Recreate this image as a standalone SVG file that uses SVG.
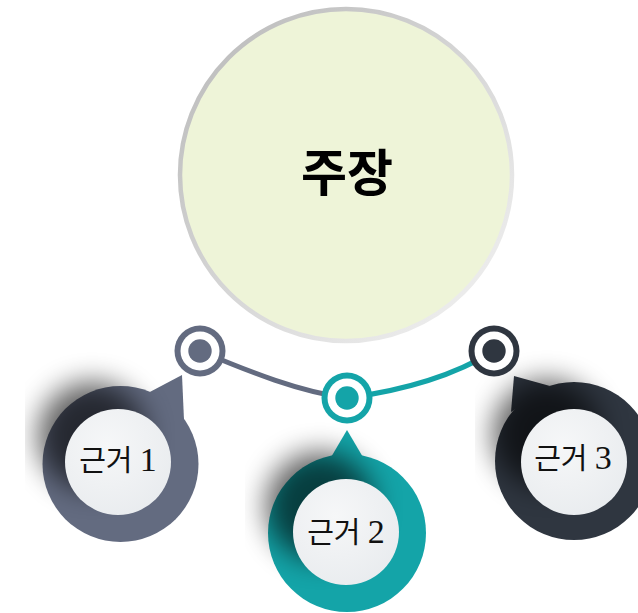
<svg xmlns="http://www.w3.org/2000/svg" width="638" height="613" viewBox="0 0 638 613">
  <style>
    .main-text { font-family: "Noto Sans CJK KR", "Noto Sans", sans-serif; font-weight: bold; font-size: 50px; fill: #000; }
    .label { font-family: "Liberation Serif", "Noto Sans CJK KR", serif; font-size: 29px; fill: #111; }
    .num { font-size: 34px; }
    .inner { fill: url(#innerGrad); }
    .shadow { fill: #000; opacity: 0.62; filter: url(#blur); }
    .ring-white { fill: #fff; }
    .c1 { fill: #636b80; }
    .c2 { fill: #14a4a8; }
    .c3 { fill: #2f3640; }
    .s1 { stroke: #636b80; }
    .s2 { stroke: #14a4a8; }
    .s3 { stroke: #2f3640; }
    .conn { fill: none; stroke-width: 5; stroke-linecap: round; }
  </style>
  <defs>
    <filter id="blur" x="-60%" y="-60%" width="220%" height="220%">
      <feGaussianBlur stdDeviation="14"/>
    </filter>
    <linearGradient id="mainStroke" x1="0" y1="0" x2="1" y2="1">
      <stop offset="0" stop-color="#b8b8b8"/>
      <stop offset="0.6" stop-color="#dcdcdc"/>
      <stop offset="1" stop-color="#f4f4f4"/>
    </linearGradient>
    <radialGradient id="innerGrad" cx="0.4" cy="0.35" r="0.75">
      <stop offset="0" stop-color="#f6f7f8"/>
      <stop offset="1" stop-color="#e8ebee"/>
    </radialGradient>
    <clipPath id="clip1"><rect x="25" y="300" width="300" height="313"/></clipPath>
    <clipPath id="clip2"><rect x="245" y="400" width="300" height="213"/></clipPath>
    <clipPath id="clip3"><rect x="475" y="300" width="200" height="313"/></clipPath>
  </defs>

  <rect width="638" height="613" fill="#ffffff"/>

  <g id="claim">
    <circle cx="346" cy="175" r="166" fill="#eef4d8" stroke="url(#mainStroke)" stroke-width="4.5"/>
    <text class="main-text" x="347" y="191" text-anchor="middle">주장</text>
  </g>

  <g id="connectors">
    <path class="conn s1" d="M200,351 C250,372 300,392 347,398"/>
    <path class="conn s2" d="M347,398 C400,391 450,378 494,351"/>
  </g>

  <g id="reason1">
    <polygon class="c1" points="182,375 146,394 184,420"/>
    <circle class="c1" cx="120.5" cy="464" r="78"/>
    <g clip-path="url(#clip1)">
      <circle class="shadow" cx="92" cy="436" r="54"/>
    </g>
    <circle class="inner" cx="118" cy="462" r="53"/>
    <text class="label" x="118" y="471" text-anchor="middle">근거 <tspan class="num">1</tspan></text>
    <g id="dot1">
      <circle class="c1" cx="200" cy="351" r="25.5"/>
      <circle class="ring-white" cx="200" cy="351" r="19.5"/>
      <circle class="c1" cx="200" cy="351" r="11.7"/>
    </g>
  </g>

  <g id="reason2">
    <polygon class="c2" points="347,430 327,464 367,464"/>
    <circle class="c2" cx="347" cy="533" r="79"/>
    <g clip-path="url(#clip2)">
      <circle class="shadow" cx="320" cy="506" r="54"/>
    </g>
    <circle class="inner" cx="346" cy="532" r="53"/>
    <text class="label" x="346" y="543" text-anchor="middle">근거 <tspan class="num">2</tspan></text>
    <g id="dot2">
      <circle class="c2" cx="347" cy="398" r="25.5"/>
      <circle class="ring-white" cx="347" cy="398" r="19.5"/>
      <circle class="c2" cx="347" cy="398" r="11.7"/>
    </g>
  </g>

  <g id="reason3">
    <polygon class="c3" points="514,376 511,412 550,386"/>
    <circle class="c3" cx="574" cy="461" r="79"/>
    <g clip-path="url(#clip3)">
      <circle class="shadow" cx="547" cy="434" r="54"/>
    </g>
    <circle class="inner" cx="574" cy="462" r="53"/>
    <text class="label" x="573" y="469" text-anchor="middle">근거 <tspan class="num">3</tspan></text>
    <g id="dot3">
      <circle class="c3" cx="494" cy="351" r="25.5"/>
      <circle class="ring-white" cx="494" cy="351" r="19.5"/>
      <circle class="c3" cx="494" cy="351" r="11.7"/>
    </g>
  </g>
</svg>
